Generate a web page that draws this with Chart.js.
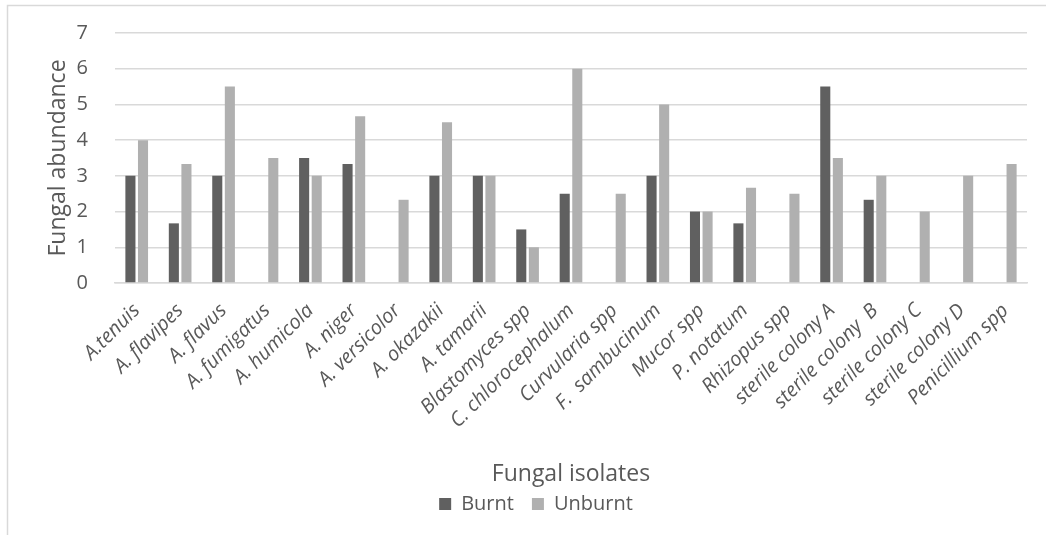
<!DOCTYPE html>
<html>
<head>
<meta charset="utf-8">
<script src="https://cdn.jsdelivr.net/npm/chart.js@4/dist/chart.umd.min.js"></script>
<style>
  html, body { margin: 0; padding: 0; background: #fff; }
  #wrap { position: absolute; left: 0; top: 0; width: 1046px; height: 535px; }
</style>
</head>
<body>
<div id="wrap"><canvas id="c" width="1046" height="535"></canvas></div>
<script>
const categories = ["A.tenuis", "A. flavipes", "A. flavus", "A. fumigatus", "A. humicola", "A. niger",
  "A. versicolor", "A. okazakii", "A. tamarii", "Blastomyces spp", "C. chlorocephalum", "Curvularia spp",
  "F.  sambucinum", "Mucor spp", "P. notatum", "Rhizopus spp", "sterile colony A", "sterile colony  B",
  "sterile colony C", "sterile colony D", "Penicillium spp"];
const burnt   = [3, 1.67, 3, 0, 3.5, 3.33, 0, 3, 3, 1.5, 2.5, 0, 3, 2, 1.67, 0, 5.5, 2.33, 0, 0, 0];
const unburnt = [4, 3.33, 5.5, 3.5, 3, 4.67, 2.33, 4.5, 3, 1, 6, 2.5, 5, 2, 2.67, 2.5, 3.5, 3, 2, 3, 3.33];
const yTicks = [0, 1, 2, 3, 4, 5, 6, 7];

const TEXT = '#595959';
const FONT = "'Open Sans', 'Noto Sans', sans-serif";

const borderPlugin = {
  id: 'outerBorder',
  beforeDraw(chart) {
    const ctx = chart.ctx;
    ctx.save();
    ctx.fillStyle = '#fff';
    ctx.fillRect(0, 0, chart.width, chart.height);
    ctx.strokeStyle = '#d9d9d9';
    ctx.lineWidth = 1.5;
    ctx.beginPath();
    ctx.moveTo(7.5, 535);
    ctx.lineTo(7.5, 5.5);
    ctx.lineTo(1046, 5.5);
    ctx.stroke();
    ctx.restore();
  }
};

new Chart(document.getElementById('c'), {
  type: 'bar',
  data: {
    labels: categories,
    datasets: [
      { label: 'Burnt', data: burnt, backgroundColor: '#606060', borderWidth: 0 },
      { label: 'Unburnt', data: unburnt, backgroundColor: '#b0b0b0', borderWidth: 0 }
    ]
  },
  options: {
    responsive: false,
    animation: false,
    devicePixelRatio: 1,
    layout: { padding: { left: 45, top: 33, right: 19, bottom: 11 } },
    datasets: { bar: { categoryPercentage: 0.58, barPercentage: 0.8 } },
    plugins: {
      legend: {
        position: 'bottom',
        labels: {
          color: TEXT,
          font: { family: FONT, size: 20 },
          boxWidth: 12, boxHeight: 12, padding: 18
        }
      },
      tooltip: { enabled: false }
    },
    scales: {
      x: {
        grid: { display: false, drawTicks: false },
        border: { display: true, color: '#d9d9d9', width: 1.5 },
        ticks: {
          color: TEXT,
          font: { family: FONT, size: 20, style: 'italic' },
          minRotation: 45, maxRotation: 45, autoSkip: false, padding: 16
        },
        title: {
          display: true, text: 'Fungal isolates', color: TEXT,
          font: { family: FONT, size: 23 }, padding: { top: 0, bottom: -12 }
        },
        afterFit(scale) { scale.height = 193; }
      },
      y: {
        min: 0, max: 7,
        afterBuildTicks(scale) { scale.ticks = yTicks.map(v => ({ value: v })); },
        grid: { color: '#d9d9d9', lineWidth: 1.5, drawTicks: false },
        border: { display: false },
        ticks: {
          color: TEXT, font: { family: FONT, size: 20 }, padding: 27
        },
        title: {
          display: true, text: 'Fungal abundance', color: TEXT,
          font: { family: FONT, size: 23 }, padding: { top: 0, bottom: 0 }
        },
        afterFit(scale) {
          scale.width = 70;
          scale.paddingTop = 0;
          scale.paddingBottom = 0;
        }
      }
    }
  },
  plugins: [borderPlugin]
});
</script>
</body>
</html>
